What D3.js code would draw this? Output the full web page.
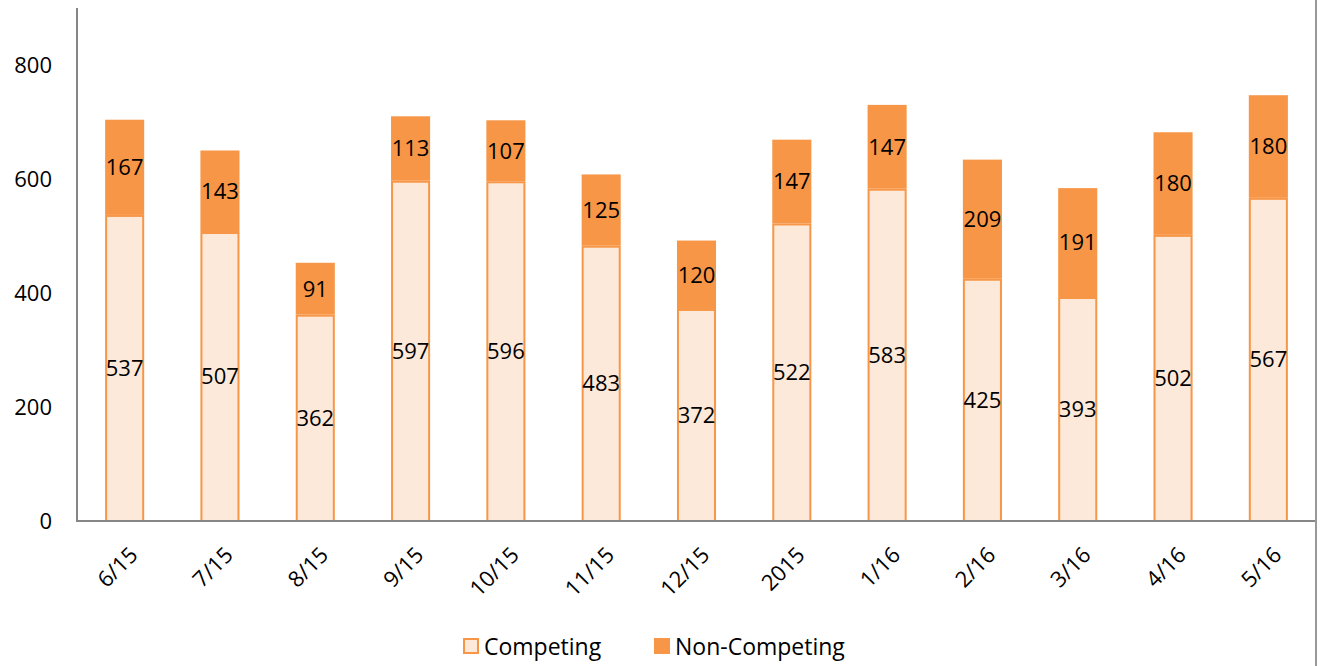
<!DOCTYPE html>
<html>
<head>
<meta charset="utf-8">
<script src="https://cdn.jsdelivr.net/npm/d3@7"></script>
<style>
  body { margin: 0; background: #fff; }
  text { font-family: "Open Sans", "Noto Sans", sans-serif; fill: #000; }
</style>
</head>
<body>
<script>
// chart data
var months = ["6/15","7/15","8/15","9/15","10/15","11/15","12/15","2015","1/16","2/16","3/16","4/16","5/16"];
var competing = [537,507,362,597,596,483,372,522,583,425,393,502,567];
var nonCompeting = [167,143,91,113,107,125,120,147,147,209,191,180,180];
var yTicks = [0,200,400,600,800];
var seriesNames = ["Competing","Non-Competing"];

var W = 1322, H = 666;
var plotLeft = 77, plotRight = 1316, plotTop = 8, plotBottom = 521;

var svg = d3.select("body").append("svg")
    .attr("width", W)
    .attr("height", H);

var x = d3.scaleBand().domain(months).range([plotLeft, plotRight]).paddingInner(0.59).paddingOuter(0.295);
var y = d3.scaleLinear().domain([0, 900]).range([plotBottom, plotTop]);

var rows = months.map(function(m, i) {
  return {month: m, Competing: competing[i], "Non-Competing": nonCompeting[i]};
});
var stacked = d3.stack().keys(seriesNames)(rows);

var fills = {"Competing": "#FDE9D9", "Non-Competing": "#F79646"};

// bars
var layers = svg.selectAll("g.layer")
  .data(stacked)
  .enter().append("g")
    .attr("class", "layer");

layers.selectAll("rect")
  .data(function(d) { return d.map(function(p) { return {key: d.key, p: p}; }); })
  .enter().append("rect")
    .attr("x", function(d) { return x(d.p.data.month) + (d.key == "Competing" ? 1 : 0); })
    .attr("y", function(d) { return y(d.p[1]) + (d.key == "Competing" ? 1 : 0); })
    .attr("width", function(d) { return x.bandwidth() - (d.key == "Competing" ? 2 : 0); })
    .attr("height", function(d) { return y(d.p[0]) - y(d.p[1]) - (d.key == "Competing" ? 1 : 0); })
    .style("fill", function(d) { return fills[d.key]; })
    .style("stroke", function(d) { return d.key == "Competing" ? "#F79646" : "none"; })
    .style("stroke-width", "2px");

// value labels
layers.selectAll("text")
  .data(function(d) { return d.map(function(p) { return {key: d.key, p: p}; }); })
  .enter().append("text")
    .attr("x", function(d) { return x(d.p.data.month) + x.bandwidth() / 2; })
    .attr("y", function(d) { return (y(d.p[0]) + y(d.p[1])) / 2; })
    .attr("dy", "0.36em")
    .attr("text-anchor", "middle")
    .style("font-size", "22px")
    .text(function(d) { return d.p[1] - d.p[0]; });

// y axis
var yAxis = svg.append("g")
    .attr("transform", "translate(" + plotLeft + ",0)")
    .call(d3.axisLeft(y).tickValues(yTicks).tickSize(0).tickPadding(25));
yAxis.select(".domain").remove();
yAxis.selectAll("text").style("font-size", "22px").style("font-family", "'Open Sans', sans-serif");

svg.append("line")
    .attr("x1", plotLeft).attr("x2", plotLeft)
    .attr("y1", plotTop).attr("y2", plotBottom + 1)
    .style("stroke", "#868686").style("stroke-width", "2px");

// x axis
var xAxis = svg.append("g")
    .attr("transform", "translate(0," + plotBottom + ")")
    .call(d3.axisBottom(x).tickSize(0));
xAxis.select(".domain").remove();
xAxis.selectAll("text")
    .style("font-size", "22px")
    .style("font-family", "'Open Sans', sans-serif")
    .attr("text-anchor", "end")
    .attr("y", 0)
    .attr("dy", "0.35em")
    .attr("transform", "translate(9,30) rotate(-45)");

svg.append("line")
    .attr("x1", plotLeft).attr("x2", plotRight)
    .attr("y1", plotBottom).attr("y2", plotBottom)
    .style("stroke", "#868686").style("stroke-width", "2px");

// frame line on the right
svg.append("line")
    .attr("x1", plotRight).attr("x2", plotRight)
    .attr("y1", 0).attr("y2", H)
    .style("stroke", "#999").style("stroke-width", "2px");

// legend
var legend = svg.append("g").attr("transform", "translate(0,647)");
var legX = [463, 654];
seriesNames.forEach(function(s, i) {
  legend.append("rect")
      .attr("x", legX[i] + 1).attr("y", -8)
      .attr("width", 14).attr("height", 14)
      .style("fill", fills[s])
      .style("stroke", "#F79646")
      .style("stroke-width", "2px");
  legend.append("text")
      .attr("x", legX[i] + 21).attr("y", 0)
      .attr("dy", "0.35em")
      .style("font-size", "23px")
      .text(s);
});
</script>
</body>
</html>
